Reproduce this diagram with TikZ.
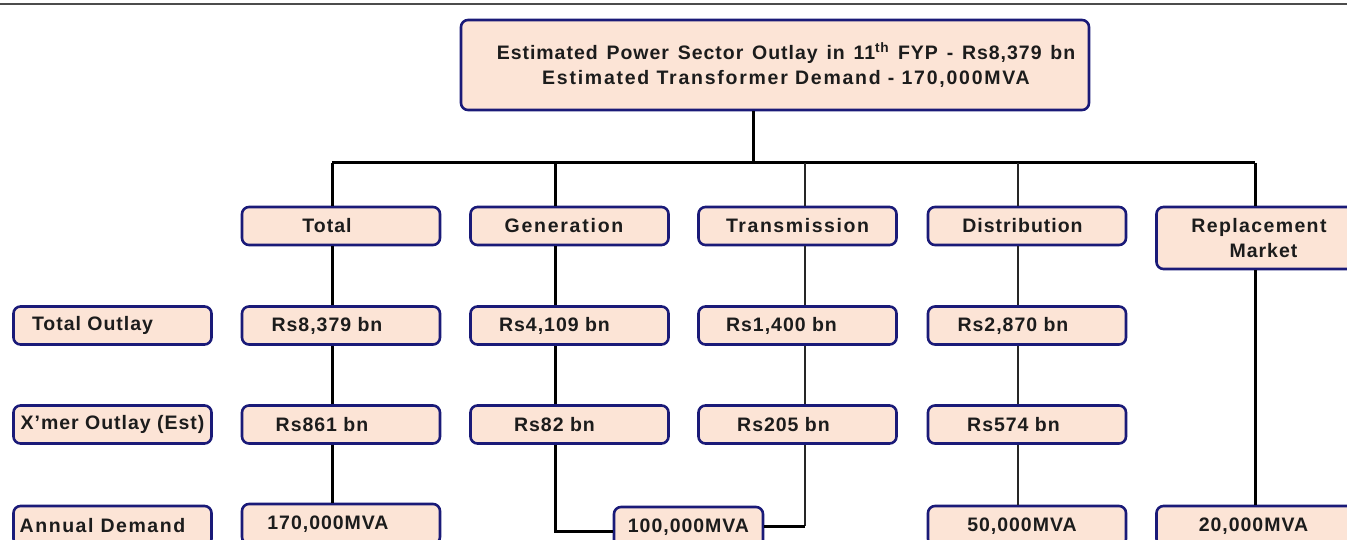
\documentclass[tikz,border=0pt]{standalone}
\usepackage{fontspec}
\setmainfont{Liberation Sans}[LetterSpace=5.0]
\definecolor{navy}{HTML}{1A1A78}
\definecolor{peach}{HTML}{FCE4D6}
\definecolor{ink}{HTML}{1C1C1C}
\begin{document}
\begin{tikzpicture}[x=1pt,y=-1pt,
  box/.style={draw=navy, line width=2.6pt, fill=peach, rounded corners=7pt,
    minimum height=38pt, minimum width=198pt, inner sep=0pt, align=center,
    font=\bfseries\fontsize{19.5}{25}\selectfont, text=ink},
  heavy/.style={draw=black, line width=3pt},
  light/.style={draw=black!85, line width=1.4pt},
  rule/.style={draw=black!70, line width=1.6pt}]
\useasboundingbox (0,0) rectangle (1347,540);
\clip (0,0) rectangle (1347,540);
% top rule
\coordinate (ruleL) at (0,4);
\coordinate (ruleR) at (1347,4);
\draw[rule] (ruleL) -- (ruleR);
% column coordinates on the bus
\coordinate (b0) at (753,163);
\coordinate (cT) at (332,163);
\coordinate (cG) at (555,163);
\coordinate (cX) at (805,163);
\coordinate (cD) at (1018,163);
\coordinate (cR) at (1255,163);
% top box
\node[box, minimum width=628pt, minimum height=90pt, font=\bfseries\fontsize{19.5}{25}\selectfont] (top) at (775,65)
  {\hspace*{22pt}{\spaceskip=8.8pt plus 1pt Estimated Power Sector Outlay in 11\textsuperscript{th} FYP - Rs8,379 bn}\\
   \hspace*{22pt}{\addfontfeature{LetterSpace=9.0}Estimated Transformer Demand - 170,000MVA}};
% row 1
\node[box] (t1) at (341,226) {Total\hspace*{28pt}};
\node[box] (g1) at (569.5,226) {\addfontfeature{LetterSpace=9.0}Generation\hspace*{11pt}};
\node[box] (x1) at (797.5,226) {\addfontfeature{LetterSpace=8.0}Transmission};
\node[box] (d1) at (1027,226) {Distribution\hspace*{9pt}};
\node[box, minimum height=62pt] (r1) at (1255.5,238) {\hspace*{7pt}\addfontfeature{LetterSpace=7.0}Replacement\\\hspace*{16pt}Market};
% row 2
\node[box] (l2) at (112.5,325.5) {Total Outlay\hspace*{40pt}};
\node[box] (t2) at (341,325.5) {Rs8,379 bn\hspace*{28pt}};
\node[box] (g2) at (569.5,325.5) {Rs4,109 bn\hspace*{30pt}};
\node[box] (x2) at (797.5,325.5) {Rs1,400 bn\hspace*{32pt}};
\node[box] (d2) at (1027,325.5) {Rs2,870 bn\hspace*{28pt}};
% row 3
\node[box] (l3) at (112.5,424.5) {X’mer Outlay (Est)};
\node[box] (t3) at (341,424.5) {Rs861 bn\hspace*{38pt}};
\node[box] (g3) at (569.5,424.5) {Rs82 bn\hspace*{30pt}};
\node[box] (x3) at (797.5,424.5) {Rs205 bn\hspace*{28pt}};
\node[box] (d3) at (1027,424.5) {Rs574 bn\hspace*{27pt}};
% row 4
\node[box, minimum height=40pt] (l4) at (112.5,526) {\addfontfeature{LetterSpace=8.0}Annual Demand\hspace*{20pt}};
\node[box, minimum height=40pt] (t4) at (341,524) {170,000MVA\hspace*{26pt}};
\node[box, minimum height=40pt, minimum width=149pt] (m4) at (688.5,527) {100,000MVA};
\node[box, minimum height=40pt] (d4) at (1027,526) {50,000MVA\hspace*{10pt}};
\node[box, minimum height=40pt] (r4) at (1255.5,526) {20,000MVA\hspace*{4pt}};
% connectors
\draw[heavy] (top.south -| b0) -- (b0);
\draw[heavy] (cT) -- (cR);
\draw[heavy] (cT) -- (t1.north -| cT);
\draw[heavy] (t1.south -| cT) -- (t2.north -| cT);
\draw[heavy] (t2.south -| cT) -- (t3.north -| cT);
\draw[heavy] (t3.south -| cT) -- (t4.north -| cT);
\draw[heavy] (cG) -- (g1.north -| cG);
\draw[heavy] (g1.south -| cG) -- (g2.north -| cG);
\draw[heavy] (g2.south -| cG) -- (g3.north -| cG);
\draw[heavy] (g3.south -| cG) |- ([yshift=-4pt]m4.west);
\draw[light] (cX) -- (x1.north -| cX);
\draw[light] (x1.south -| cX) -- (x2.north -| cX);
\draw[light] (x2.south -| cX) -- (x3.north -| cX);
\draw[light] (x3.south -| cX) -- ([yshift=1pt]m4.east -| cX);
\draw[heavy] ([yshift=1pt]m4.east) -- ([yshift=1pt]m4.east -| cX);
\draw[light] (cD) -- (d1.north -| cD);
\draw[light] (d1.south -| cD) -- (d2.north -| cD);
\draw[light] (d2.south -| cD) -- (d3.north -| cD);
\draw[light] (d3.south -| cD) -- (d4.north -| cD);
\draw[heavy] (cR) -- (r1.north -| cR);
\draw[heavy] (r1.south -| cR) -- (r4.north -| cR);
\end{tikzpicture}
\end{document}
